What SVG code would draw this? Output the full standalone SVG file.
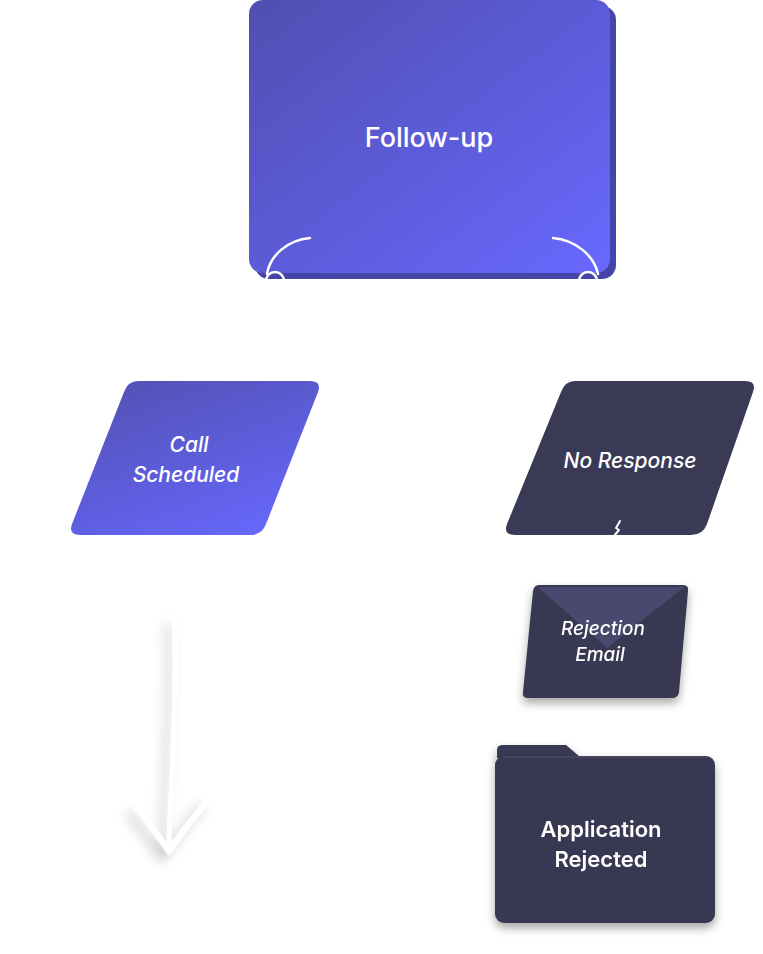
<svg xmlns="http://www.w3.org/2000/svg" width="763" height="954" viewBox="0 0 763 954">
<defs>
<linearGradient id="gPurple" x1="0" y1="0" x2="1" y2="1">
<stop offset="0" stop-color="#4f4fb0"/>
<stop offset="1" stop-color="#6868ff"/>
</linearGradient>
<linearGradient id="gPurple2" x1="0.2" y1="0" x2="0.8" y2="1">
<stop offset="0" stop-color="#5252b6"/>
<stop offset="1" stop-color="#6767fd"/>
</linearGradient>
<filter id="shadow" x="-20%" y="-20%" width="140%" height="150%">
<feDropShadow dx="0" dy="5" stdDeviation="5" flood-color="#000" flood-opacity="0.35"/>
</filter>
<filter id="arrowShadow" x="-60%" y="-10%" width="220%" height="130%">
<feDropShadow dx="-7" dy="7" stdDeviation="6" flood-color="#000" flood-opacity="0.22"/>
</filter>
</defs>
<style>
.lbl{font-family:Inter,"Liberation Sans",sans-serif;fill:#ffffff;text-anchor:middle}
.it{font-style:italic;font-weight:500}
.dark{fill:#3a3a56}
.conn{fill:none;stroke:#ffffff;stroke-linecap:round;stroke-linejoin:round}
</style>
<rect width="763" height="954" fill="#ffffff"/>

<g id="node-followup">
<rect x="255" y="6" width="361" height="273" rx="14" fill="#4545a8"/>
<rect x="249" y="0" width="361" height="273" rx="14" fill="url(#gPurple)"/>
<text class="lbl" x="429" y="147" font-size="27" font-weight="500">Follow-up</text>
</g>

<g id="node-call-scheduled">
<path d="M138,381 L310,381 Q322,381 318,392 L266,524 Q262,535 250,535 L80,535 Q68,535 72,524 L124,392 Q128,381 138,381 Z" fill="url(#gPurple2)"/>
<text class="lbl it" x="189" y="452" font-size="21">Call</text>
<text class="lbl it" x="186" y="482" font-size="21">Scheduled</text>
</g>

<g id="node-no-response">
<path d="M575,381 L745,381 Q757,381 753,392 L707,524 Q703,535 691,535 L515,535 Q503,535 507,524 L561,392 Q565,381 575,381 Z" class="dark"/>
<text class="lbl it" x="630" y="468" font-size="21">No Response</text>
</g>

<g id="node-rejection-email" filter="url(#shadow)">
<path d="M539,585 L683,585 Q689,585 688,591 L679,692 Q678,698 672,698 L528,698 Q522,698 523,692 L533,591 Q534,585 539,585 Z" fill="#393953"/>
<path d="M538,587 L684,587 L607,648 Z" fill="#4a4a70"/>
<text class="lbl it" x="603" y="635" font-size="19">Rejection</text>
<text class="lbl it" x="600" y="661" font-size="19">Email</text>
</g>

<g id="node-application-rejected" filter="url(#shadow)">
<path d="M497,758 L497,750 Q497,745 503,745 L566,745 L579,756 L579,758 Z" fill="#393953"/>
<rect x="495" y="756" width="220" height="167" rx="9" fill="#393953"/>
<path d="M503,757 L707,757" stroke="#4a4a66" stroke-width="1.5"/>
<text class="lbl" x="601" y="837" font-size="22" font-weight="600">Application</text>
<text class="lbl" x="601" y="867" font-size="22" font-weight="600">Rejected</text>
</g>

<g id="connectors">
<path class="conn" stroke-width="2.5" d="M310,238 C288,240 270,255 267,274"/>
<circle class="conn" stroke-width="2.5" cx="275" cy="281" r="9"/>
<path class="conn" stroke-width="2.5" d="M553,238 C575,240 594,255 598,274"/>
<circle class="conn" stroke-width="2.5" cx="588" cy="281" r="9"/>
<path class="conn" stroke-width="2" d="M620,521 L616,528 L619,530 L614,536"/>
<g filter="url(#arrowShadow)">
<path class="conn" stroke-width="4.5" d="M174,618 C177,660 174,720 172,780 C170,810 169,830 169,848"/>
<path class="conn" stroke-width="6" d="M137,808 C148,822 160,838 169,851 C180,835 195,815 208,801"/>
</g>
</g>
</svg>
